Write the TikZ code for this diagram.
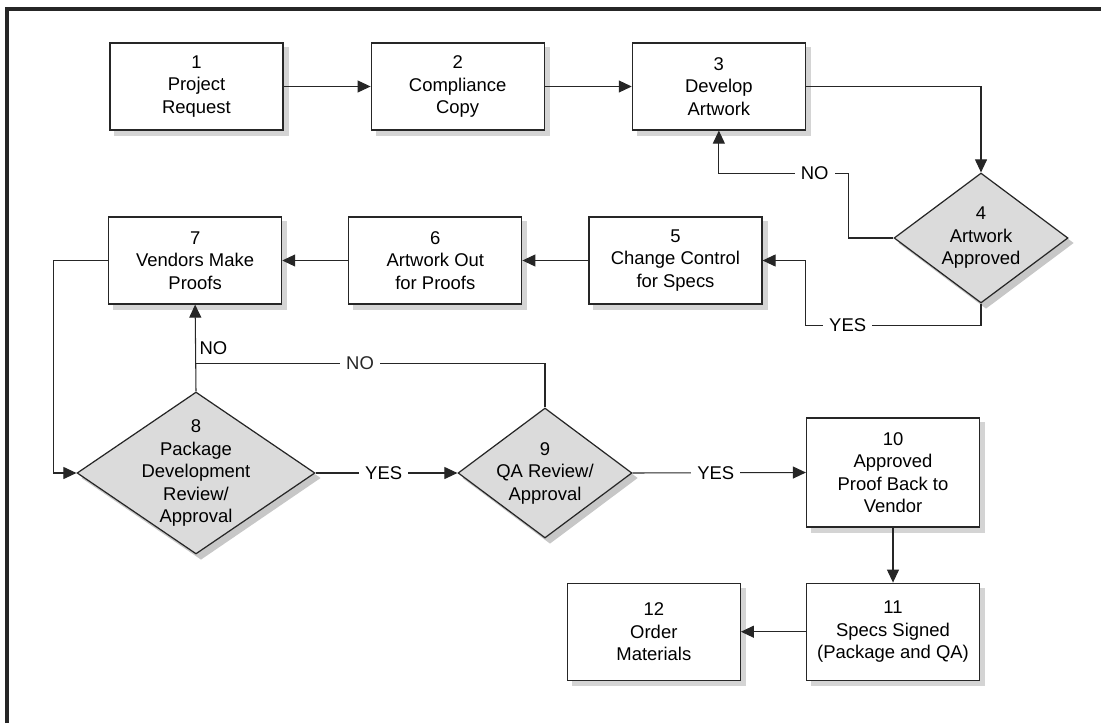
\documentclass[tikz,border=0pt]{standalone}
\usepackage{fontspec}
\setmainfont{Liberation Sans}
\usepackage{xcolor}
\usepackage{tikz}
\usetikzlibrary{positioning,shapes.geometric,arrows.meta,calc,backgrounds}

\begin{document}
\begin{tikzpicture}[x=0.02cm, y=-0.02cm, node distance=1.74cm]
      \tikzset{block/.style={rectangle, draw=black!85, line width=0.7pt, fill=white, minimum width=3.46cm, minimum height=1.74cm, align=center, font=\fontsize{10.5}{12.8}\selectfont}}
      \tikzset{decision/.style={diamond, draw=black!85, line width=0.7pt, fill=black!14, inner sep=0pt}}
      \tikzset{inside/.style={align=center, font=\fontsize{10.5}{12.8}\selectfont}}
      \tikzset{flow/.style={-{Triangle[length=0.26cm, width=0.24cm]}, line width=0.6pt, draw=black!85}}
      \tikzset{lbl/.style={fill=white, inner xsep=0.12cm, inner ysep=1pt, font=\fontsize{10.5}{12.8}\selectfont}}
      \useasboundingbox (0,0) rectangle (1101,723);
      \draw[line width=2pt, black!85] (7,723) -- (7,9) -- (1101,9);
      \node[block] (req) at (196.5,86.5) {1\\Project\\Request};
      \node[block, right=of req] (copy) {2\\Compliance\\Copy};
      \node[block, right=of copy] (art) {3\\Develop\\Artwork};
      \node[decision, minimum width=3.48cm, minimum height=2.6cm, label={[inside]center:{4\\Artwork\\Approved}}] (appr) at (981,238) {};
      \node[block] (change) at (675.5,260.5) {5\\Change Control\\for Specs};
      \node[block, left=1.32cm of change] (out) {6\\Artwork Out\\for Proofs};
      \node[block, left=1.32cm of out] (vend) {7\\Vendors Make\\Proofs};
      \node[decision, minimum width=4.76cm, minimum height=3.24cm, label={[inside]center:{8\\Package\\Development\\Review/\\Approval}}] (pkg) at (196,473) {};
      \node[decision, minimum width=3.48cm, minimum height=2.6cm, label={[inside]center:{9\\QA Review/\\Approval}}] (qa) at (545,473) {};
      \node[block, minimum height=2.18cm] (back) at (893,472.5) {10\\Approved\\Proof Back to\\Vendor};
      \node[block, minimum height=1.94cm, below=1.1cm of back] (signed) {11\\Specs Signed\\(Package and QA)};
      \node[block, minimum height=1.94cm, left=1.3cm of signed] (order) {12\\Order\\Materials};
      \begin{scope}[on background layer]
        \foreach \n in {req,copy,art,change,out,vend,back,signed,order}
          \fill[black!17] ($(\n.south west)+(5,5)$) rectangle ($(\n.north east)+(5,5)$);
        \foreach \n in {appr,pkg,qa}
          \fill[black!22] ($(\n.north)+(5,5)$) -- ($(\n.east)+(5,5)$) -- ($(\n.south)+(5,5)$) -- ($(\n.west)+(5,5)$) -- cycle;
      \end{scope}
      \coordinate (join) at ($(pkg.north)+(0,-28)$);
      \draw[flow] (req) -- (copy);
      \draw[flow] (copy) -- (art);
      \draw[flow] (art.east) -| (appr.north);
      \draw[flow] (appr.west) -- ++(-45,0) |- node[lbl, pos=0.63] {NO} ($(art.south)+(0,43)$) -- (art.south);
      \draw[flow] (appr.south) -- ++(0,22) -| node[lbl, pos=0.38] {YES} ($(change.east)+(43,0)$) -- (change.east);
      \draw[flow] (change) -- (out);
      \draw[flow] (out) -- (vend);
      \draw[flow] (vend.west) -- ++(-55,0) |- (pkg.west);
      \draw[flow] (pkg.north) -- node[right, pos=0.5, inner sep=2pt, font=\fontsize{10.5}{12.8}\selectfont] {NO} (vend.south);
      \draw[line width=0.6pt, black!85] (qa.north) |- node[lbl, pos=0.765] {NO} (join);
      \draw[flow] (pkg.east) -- node[lbl, pos=0.48] {YES} (qa.west);
      \draw[flow] (qa.east) -- node[lbl, pos=0.48] {YES} (back.west);
      \draw[flow] (back) -- (signed);
      \draw[flow] (signed) -- (order);
    \end{tikzpicture}
\end{document}
